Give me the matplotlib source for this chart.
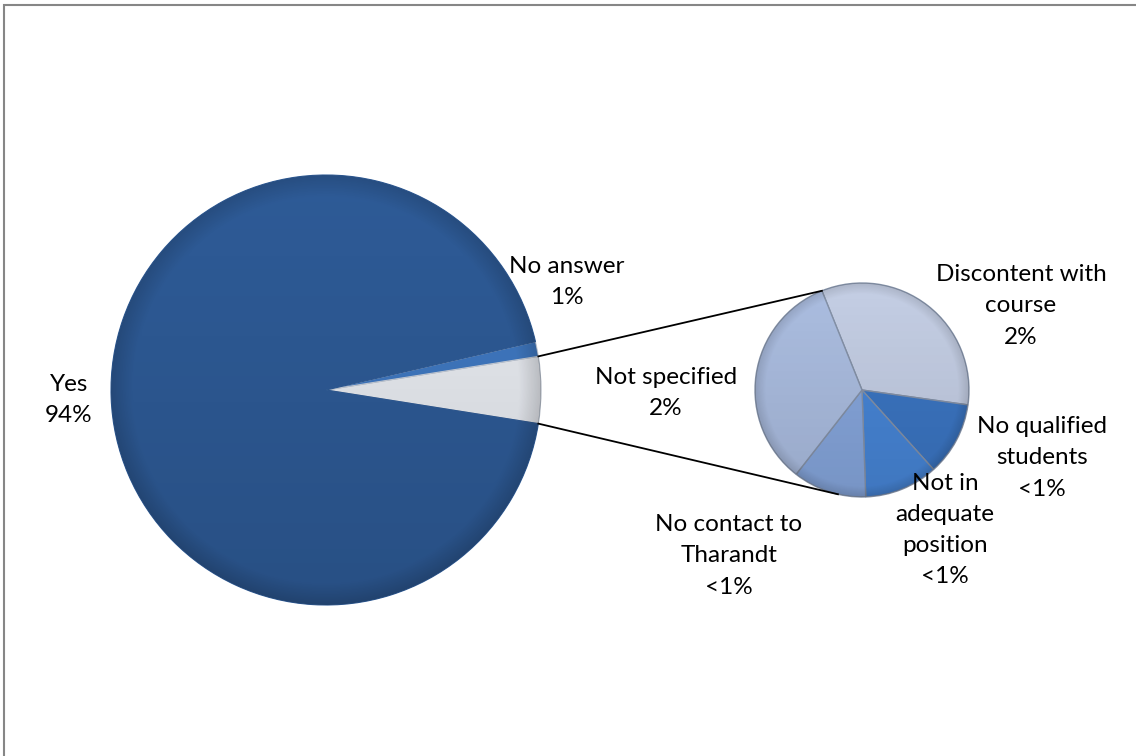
import numpy as np
import matplotlib
matplotlib.use("Agg")
import matplotlib.pyplot as plt
from matplotlib.patches import Rectangle, Circle

# ---- data ----
main_labels = ["Other", "No answer", "Yes"]
main_counts = [None, 2, 169]          # Other = sum of breakdown below
main_pct_text = ["", "1%", "94%"]

sub_labels = ["Discontent with\ncourse", "No qualified\nstudents",
              "Not in\nadequate\nposition", "No contact to\nTharandt",
              "Not specified"]
sub_counts = [3, 1, 1, 1, 3]
sub_pct_text = ["2%", "<1%", "<1%", "<1%", "2%"]

main_counts[0] = sum(sub_counts)

# ---- styling ----
W, H = 1136, 756
plt.rcParams['font.family'] = ['Lato', 'DejaVu Sans']
fig = plt.figure(figsize=(W / 100, H / 100), dpi=100)
ax = fig.add_axes([0, 0, 1, 1])

def py(y):  # pixel-from-top to data y
    return H - y

main_c = (326, py(390)); main_r = 215
sub_c = (862, py(390)); sub_r = 107

main_colors = ["#e9ecf2", "#4079c2", "#2e5b97"]
sub_colors = ["#c4cee4", "#3b75c2", "#4785d6", "#86a6dc", "#abbde0"]

other_angle = 360.0 * main_counts[0] / sum(main_counts)
start_main = -other_angle / 2

w_main, _ = ax.pie(main_counts, colors=main_colors, center=main_c, radius=main_r,
                   startangle=start_main, counterclock=True,
                   wedgeprops=dict(linewidth=0.8, edgecolor="#c8d0dc"),
                   frame=True)
w_main[2].set_edgecolor("#2e5b97")
w_main[0].set_edgecolor("#a8b0bc")

w_sub, _ = ax.pie(sub_counts, colors=sub_colors, center=sub_c, radius=sub_r,
                  startangle=112, counterclock=False,
                  wedgeprops=dict(linewidth=1.0, edgecolor="#8592a8"),
                  frame=True)
ax.set_xlim(0, W)
ax.set_ylim(0, H)
ax.set_aspect("equal")
ax.axis("off")

# shading overlays (soft bevel look)
def shade(center, r, strength=0.2):
    n = 400
    xs = np.linspace(-1, 1, n)
    X, Y = np.meshgrid(xs, xs)
    R = np.sqrt(X**2 + Y**2)
    rgba = np.zeros((n, n, 4))
    dark = np.clip(-Y * 0.5 + 0.5, 0, 1) * strength * 0.7 + np.clip((R - 0.9) / 0.1, 0, 1) * strength * 0.8
    rgba[..., 3] = dark
    im = ax.imshow(rgba, extent=(center[0] - r, center[0] + r, center[1] - r, center[1] + r),
                   origin="lower", zorder=3, interpolation="bilinear")
    im.set_clip_path(Circle(center, r, transform=ax.transData))

shade(main_c, main_r, 0.18)
shade(sub_c, sub_r, 0.15)
ax.set_xlim(0, W)
ax.set_ylim(0, H)

# connector lines
a_top = np.deg2rad(other_angle / 2)
a_bot = np.deg2rad(-other_angle / 2)
p1 = (main_c[0] + main_r * np.cos(a_top), main_c[1] + main_r * np.sin(a_top))
p2 = (main_c[0] + main_r * np.cos(a_bot), main_c[1] + main_r * np.sin(a_bot))
q1 = (sub_c[0] + sub_r * np.cos(np.deg2rad(112)), sub_c[1] + sub_r * np.sin(np.deg2rad(112)))
q2 = (sub_c[0] + sub_r * np.cos(np.deg2rad(-103)), sub_c[1] + sub_r * np.sin(np.deg2rad(-103)))
ax.plot([p1[0], q1[0]], [p1[1], q1[1]], color="black", lw=1.3, zorder=4)
ax.plot([p2[0], q2[0]], [p2[1], q2[1]], color="black", lw=1.3, zorder=4)

# labels
fs = 17.5
ls = 1.6
ax.text(567, py(282), main_labels[1] + "\n" + main_pct_text[1], ha="center", va="center",
        fontsize=fs, linespacing=ls, zorder=5)
ax.text(69, py(400), main_labels[2] + "\n" + main_pct_text[2], ha="center", va="center",
        fontsize=fs, linespacing=ls, zorder=5)

sub_pos = [(1021, 306), (1042, 458), (945, 530), (729, 556), (666, 393)]
for lab, pct, (x, y) in zip(sub_labels, sub_pct_text, sub_pos):
    ax.text(x, py(y), lab + "\n" + pct, ha="center", va="center",
            fontsize=fs, linespacing=ls, zorder=5)

# chart border (extends past right/bottom edges)
ax.add_patch(Rectangle((4, -10), W + 20, py(5) + 10, fill=False, edgecolor="#868686",
                       lw=1.5, zorder=6))

fig.savefig("out.png", dpi=100)
